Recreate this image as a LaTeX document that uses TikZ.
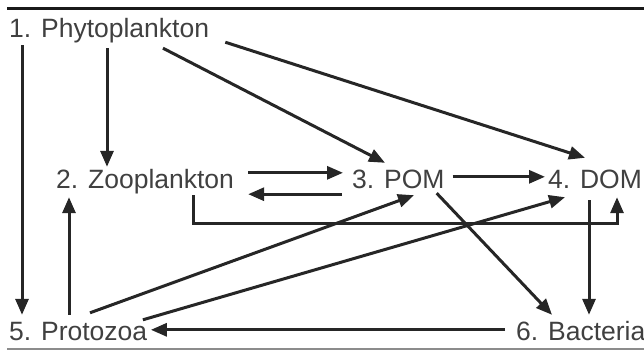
\documentclass[tikz,border=0pt]{standalone}
\usepackage{fontspec}
\setmainfont{Liberation Sans}
\usetikzlibrary{arrows.meta,calc}

\begin{document}
\begin{tikzpicture}[x=1pt,y=-1pt,
    flow/.style={draw=black!85,line width=3pt,-{Triangle[length=16pt,width=13pt]}}]

      \useasboundingbox (0,0) rectangle (644,351);
      \draw[line width=3pt,black!90] (7,8.5) -- (644,8.5);
      \draw[line width=1.2pt,black!45] (7,349) -- (644,349);

      \begin{scope}[every node/.style={anchor=base west,inner sep=0pt,text height=20pt,text depth=6pt,
          text=black!75,font=\fontsize{26.5}{30}\selectfont}]
        \node (phyto) at (9,37)   {1. Phytoplankton};
        \node (zoo)   at (56,188) {2. Zooplankton};
        \node (pom)   at (352,188) {3. POM};
        \node (dom)   at (548,188) {4. DOM};
        \node (proto) at (9,340)  {5. Protozoa};
        \node (bact)  at (516,340) {6. Bacteria};
      \end{scope}

      \begin{scope}[every edge/.style={flow}]
        \path ($(phyto.south west)+(13,2)$)   edge ($(proto.north west)+(13,-5)$);
        \path ($(phyto.south west)+(98,5)$)   edge ($(zoo.north west)+(51,-1)$);
        \path ($(phyto.south west)+(154,5)$)  edge ($(pom.north west)+(33,-5)$);
        \path ($(phyto.south east)+(16,-1)$)  edge ($(dom.north west)+(37,-10)$);
        \path ($(zoo.north east)+(14,5)$)     edge ($(pom.north west)+(-9,5)$);
        \path ($(pom.south west)+(-10,0)$)    edge ($(zoo.south east)+(14,0)$);
        \path ($(pom.north east)+(8,9)$)      edge ($(dom.north west)+(-3,9)$);
        \path ($(pom.south east)+(-8,-1)$)    edge ($(bact.north west)+(36,-5)$);
        \path ($(dom.south west)+(41,6)$)     edge ($(bact.north west)+(73,-5)$);
        \path ($(proto.north west)+(81,-7)$)  edge ($(pom.south west)+(62,1)$);
        \path ($(proto.north east)+(-4.5,0)$) edge ($(dom.south west)+(17,3)$);
        \path ($(bact.north west)+(-11,10)$)  edge ($(proto.north east)+(3.5,10)$);
        \path ($(proto.north west)+(60,-5)$)  edge ($(zoo.south west)+(13,3)$);
      \end{scope}

      \draw[flow] ($(zoo.south west)+(137,1)$) -- ++(0,28) -| ($(dom.south west)+(69,3)$);

\end{tikzpicture}
\end{document}
